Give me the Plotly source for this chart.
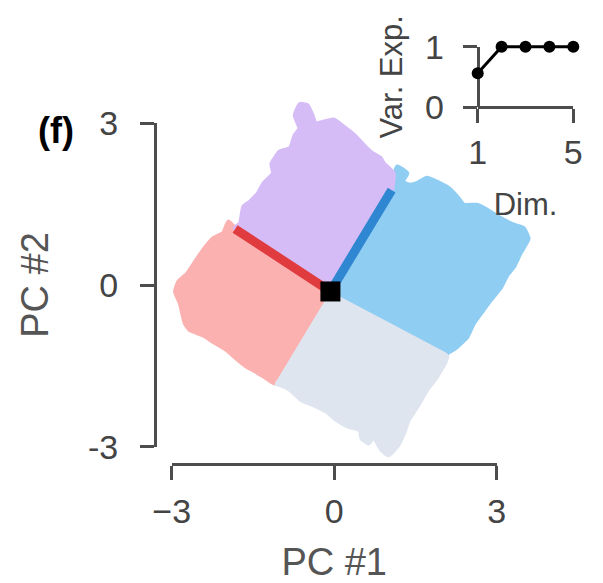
import plotly.graph_objects as go

W, H = 603, 583

# ---------------- data (PC coordinates) ----------------
center = [-0.07, -0.12]
red_axis_end = [-1.83, 1.04]
blue_axis_end = [1.06, 1.76]

purple_x = [-0.07, -1.83, -1.73, -1.67, -1.55, -1.40, -1.30, -1.12, -1.15, -1.00, -0.81, -0.72, -0.63, -0.72,
            -0.63, -0.50, -0.41, -0.35, -0.20, -0.01, 0.17, 0.36, 0.54, 0.70, 0.85, 0.91, 1.09, 1.06]
purple_y = [-0.12, 1.05, 1.14, 1.45, 1.54, 1.70, 1.88, 2.07, 2.25, 2.47, 2.53, 2.78, 2.90, 3.15,
            3.35, 3.33, 3.15, 2.99, 3.02, 3.06, 2.93, 2.78, 2.59, 2.44, 2.35, 2.25, 2.07, 1.76]

blue_x = [-0.07, 1.06, 1.16, 1.34, 1.25, 1.40, 1.53, 1.71, 1.89, 2.11, 2.26, 2.39, 2.63, 2.82, 3.06, 3.31,
          3.49, 3.58, 3.43, 3.31, 3.19, 3.06, 2.88, 2.75, 2.57, 2.45, 2.23, 2.08]
blue_y = [-0.12, 1.76, 2.19, 2.07, 1.91, 1.85, 1.88, 1.98, 1.91, 1.79, 1.64, 1.48, 1.48, 1.39, 1.24, 1.11,
          1.05, 0.86, 0.59, 0.34, 0.19, -0.06, -0.28, -0.46, -0.71, -0.96, -1.17, -1.26]

gray_x = [-0.07, 2.08, 2.05, 1.89, 1.71, 1.53, 1.37, 1.28, 1.16, 1.00, 0.88, 0.73, 0.63, 0.51, 0.48, 0.26,
          0.05, -0.13, -0.38, -0.60, -0.81, -1.00, -1.09]
gray_y = [-0.12, -1.25, -1.42, -1.70, -1.94, -2.25, -2.50, -2.75, -2.99, -3.15, -3.06, -2.81, -2.93, -2.84,
          -2.69, -2.62, -2.50, -2.35, -2.22, -2.13, -1.94, -1.85, -1.82]

red_x = [-0.07, -1.09, -1.24, -1.43, -1.61, -1.80, -1.98, -2.23, -2.41, -2.66, -2.75, -2.84, -2.93, -2.87,
         -2.72, -2.56, -2.41, -2.23, -2.04, -1.95, -1.83]
red_y = [-0.12, -1.82, -1.73, -1.61, -1.51, -1.36, -1.20, -1.05, -0.93, -0.83, -0.71, -0.34, -0.12, 0.06,
         0.19, 0.43, 0.65, 0.86, 0.96, 1.17, 1.04]

dims = [1, 2, 3, 4, 5]
var_exp = [0.56, 1.0, 1.0, 1.0, 1.0]

main_ticks = [-3, 0, 3]
main_x_ticktext = ["\u22123", "0", "3"]
main_y_ticktext = ["-3", "0", "3"]
inset_x_ticks = [1, 5]
inset_y_ticks = [0, 1]

# ---------------- styling ----------------
FONT = "Liberation Sans, Arial, Helvetica, sans-serif"
AXC = "#4d4d4d"
TXT = "#444444"
C_PURPLE = "#d6bcf7"
C_BLUE = "#8fcdf2"
C_RED = "#fcb1b1"
C_GRAY = "#dfe5ef"


def fx(px):
    return px / W


def fy(py):
    return 1 - py / H


# main axes pixel geometry (-3..3)
mx0, mx1 = 171.7, 496.7
my_top, my_bot = 123.3, 446.7
xs = (mx1 - mx0) / 6.0
ys = (my_bot - my_top) / 6.0
xc = (mx0 + mx1) / 2
yc = (my_top + my_bot) / 2

# data plotting area (padded)
dpx0, dpx1 = 150, 560
dpy0, dpy1 = 85, 475
dxr = [(dpx0 - xc) / xs, (dpx1 - xc) / xs]
dyr = [(yc - dpy1) / ys, (yc - dpy0) / ys]

# inset geometry
ix0, ix1 = 477.7, 573.3
iy_top, iy_bot = 46.7, 107.0
ixs = (ix1 - ix0) / 4.0
iys = (iy_bot - iy_top) / 1.0
ipx0, ipx1 = ix0 - 0.5 * ixs, ix1 + 0.5 * ixs
ipy0, ipy1 = iy_top - 0.25 * iys, iy_bot + 0.25 * iys

fig = go.Figure()

for xs_, ys_, col in [(red_x, red_y, C_RED), (gray_x, gray_y, C_GRAY),
                      (blue_x, blue_y, C_BLUE), (purple_x, purple_y, C_PURPLE)]:
    fig.add_trace(go.Scatter(x=xs_, y=ys_, fill="toself", fillcolor=col, mode="lines",
                             line=dict(color=col, width=5, shape="spline", smoothing=0.4),
                             hoverinfo="skip", showlegend=False, xaxis="x", yaxis="y"))

fig.add_trace(go.Scatter(x=[center[0], red_axis_end[0]], y=[center[1], red_axis_end[1]], mode="lines",
                         line=dict(color="#e03c3f", width=9), showlegend=False, xaxis="x", yaxis="y"))
fig.add_trace(go.Scatter(x=[center[0], blue_axis_end[0]], y=[center[1], blue_axis_end[1]], mode="lines",
                         line=dict(color="#2f86d1", width=9), showlegend=False, xaxis="x", yaxis="y"))
fig.add_trace(go.Scatter(x=[center[0]], y=[center[1]], mode="markers",
                         marker=dict(symbol="square", size=20, color="black"), showlegend=False,
                         xaxis="x", yaxis="y"))

# spine subplots (empty traces so the axes render)
fig.add_trace(go.Scatter(x=[], y=[], xaxis="x2", yaxis="y2", showlegend=False))
fig.add_trace(go.Scatter(x=[], y=[], xaxis="x3", yaxis="y3", showlegend=False))

# inset data
fig.add_trace(go.Scatter(x=dims, y=var_exp, mode="lines+markers", line=dict(color="black", width=3),
                         marker=dict(color="black", size=12), showlegend=False, cliponaxis=False,
                         xaxis="x4", yaxis="y4"))

tickfont = dict(family=FONT, size=34, color=TXT)
titlefont = dict(family=FONT, size=38, color="#555555")
insetfont = dict(family=FONT, size=31, color="#444444")

common = dict(showline=True, linecolor=AXC, linewidth=3, ticks="outside", ticklen=14, tickwidth=3,
              tickcolor=AXC, showgrid=False, zeroline=False, automargin=False, fixedrange=True)

fig.update_layout(
    width=W, height=H, margin=dict(l=0, r=0, t=0, b=0, autoexpand=False),
    paper_bgcolor="white", plot_bgcolor="rgba(0,0,0,0)",
    xaxis=dict(domain=[fx(dpx0), fx(dpx1)], range=dxr, visible=False, fixedrange=True, automargin=False),
    yaxis=dict(domain=[fy(dpy1), fy(dpy0)], range=dyr, visible=False, fixedrange=True, automargin=False),
    xaxis2=dict(domain=[fx(mx0), fx(mx1)], range=[-3, 3], anchor="free", position=fy(464),
                tickvals=main_ticks, ticktext=main_x_ticktext, tickfont=tickfont, ticklabelstandoff=2,
                title=dict(text="PC #1", font=titlefont, standoff=21), **common),
    yaxis2=dict(domain=[fy(my_bot), fy(my_top)], range=[-3, 3], anchor="free", position=fx(155),
                tickvals=main_ticks, ticktext=main_y_ticktext, tickfont=tickfont, ticklabelstandoff=15,
                title=dict(text="PC #2", font=titlefont, standoff=26), **common),
    xaxis3=dict(domain=[fx(ix0), fx(ix1)], range=[1, 5], anchor="free", position=fy(iy_bot),
                tickvals=inset_x_ticks, tickfont=tickfont,
                title=dict(text="Dim.", font=insetfont, standoff=23), **common),
    yaxis3=dict(domain=[fy(iy_bot), fy(iy_top)], range=[0, 1], anchor="free", position=fx(ix0),
                tickvals=inset_y_ticks, tickfont=tickfont, ticklabelstandoff=12,
                title=dict(text="Var. Exp.", font=insetfont, standoff=12), **common),
    xaxis4=dict(domain=[fx(ipx0), fx(ipx1)], range=[0.5, 5.5], visible=False, fixedrange=True,
                automargin=False),
    yaxis4=dict(domain=[fy(ipy1), fy(ipy0)], range=[-0.25, 1.25], visible=False, fixedrange=True,
                automargin=False),
    annotations=[dict(text="<b>(f)</b>", x=fx(56), y=fy(130), xref="paper", yref="paper",
                      showarrow=False, font=dict(family=FONT, size=36, color="black"),
                      xanchor="center", yanchor="middle")],
)

fig.write_html("out.html")
